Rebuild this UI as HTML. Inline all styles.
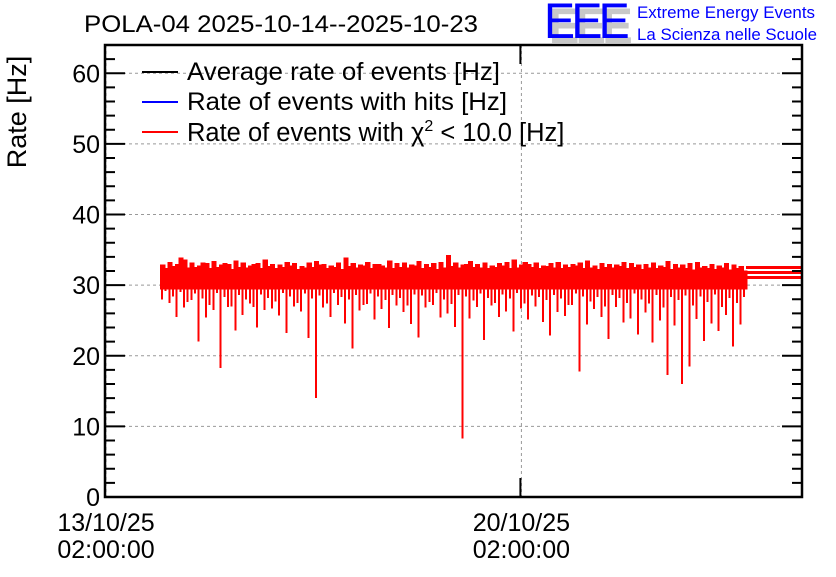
<!DOCTYPE html>
<html><head><meta charset="utf-8"><style>
body{margin:0;background:#fff;width:836px;height:572px;overflow:hidden;font-family:"Liberation Sans",sans-serif}
svg text{font-family:"Liberation Sans",sans-serif}
</style></head><body>
<svg id="chart" width="836" height="572" xmlns="http://www.w3.org/2000/svg">
<g id="grid"></g>
<g id="data" shape-rendering="crispEdges"></g>
<g id="axes"></g>
<text x="84" y="32" font-size="24.5" textLength="394" lengthAdjust="spacingAndGlyphs">POLA-04 2025-10-14--2025-10-23</text>
<g>
<text x="549" y="43" font-size="50" fill="#c8c8c8" font-weight="bold" letter-spacing="-4" textLength="80" lengthAdjust="spacingAndGlyphs">EEE</text>
<text x="544" y="38" font-size="50" fill="#0000ff" letter-spacing="-4" textLength="82" lengthAdjust="spacingAndGlyphs">EEE</text>
<text x="637" y="18" font-size="16.5" fill="#0000ff" textLength="178" lengthAdjust="spacingAndGlyphs">Extreme Energy Events</text>
<text x="637" y="40" font-size="16.5" fill="#0000ff" textLength="180" lengthAdjust="spacingAndGlyphs">La Scienza nelle Scuole</text>
</g>
<text transform="translate(26,112) rotate(-90)" text-anchor="middle" font-size="27">Rate [Hz]</text>
<g font-size="25">
<g><line x1="142" y1="72" x2="178" y2="72" stroke="#000" stroke-width="2"/><text x="187" y="80" textLength="313" lengthAdjust="spacingAndGlyphs">Average rate of events [Hz]</text></g>
<g><line x1="142" y1="102" x2="178" y2="102" stroke="#00f" stroke-width="2"/><text x="187" y="110" textLength="320" lengthAdjust="spacingAndGlyphs">Rate of events with hits [Hz]</text></g>
<g><line x1="142" y1="132" x2="178" y2="132" stroke="#f00" stroke-width="2"/><text x="187" y="141" font-size="25.5">Rate of events with χ<tspan dy="-10" font-size="16">2</tspan><tspan dy="10"> &lt; 10.0 [Hz]</tspan></text></g>
</g>
</svg>
<script>
const yTicks=[0,10,20,30,40,50,60];
const xTickDays=[0,7];
const xTickLabels=[["13/10/25","02:00:00"],["20/10/25","02:00:00"]];
const startDay=0.93, stepDay=0.1234;
const hi=[32.9,33.3,33.0,33.6,33.2,32.8,33.1,33.4,32.9,33.0,33.5,33.2,32.8,33.1,33.6,33.0,32.9,33.3,33.1,32.7,33.2,33.4,33.0,32.8,33.2,33.9,33.1,32.9,33.3,33.0,32.8,33.5,33.1,33.2,32.9,33.4,33.0,33.1,33.3,34.3,33.2,32.9,33.4,33.0,33.2,32.8,33.1,33.3,33.6,32.9,33.0,33.2,32.8,33.1,33.3,32.9,33.0,33.2,33.5,32.8,33.1,33.0,32.9,33.3,33.1,32.9,33.0,33.2,32.8,33.4,33.0,32.9,33.1,33.3,32.7,33.0,32.8,33.1,32.9,32.7];
const hi2=[32.4,32.7,33.9,32.5,32.6,33.2,32.4,32.6,33.1,32.3,32.6,32.5,33.0,32.4,32.7,32.4,32.6,32.8,32.3,32.5,32.6,32.9,32.4,32.6,32.3,32.7,32.5,32.8,32.4,33.0,32.5,32.4,32.6,32.5,32.8,32.4,32.6,32.3,32.5,32.7,32.5,33.0,32.6,32.5,32.4,32.6,32.8,32.4,32.5,33.3,32.6,32.4,32.7,32.5,32.4,32.6,32.8,32.4,32.5,32.3,32.6,32.5,32.7,32.4,32.6,32.3,32.5,32.4,32.6,32.3,32.5,32.4,32.2,32.5,32.4,32.3,32.5,32.2,32.4,32.1];
const lo=[28.0,27.5,25.5,26.8,27.9,22.0,25.4,26.5,18.3,26.9,23.6,25.8,27.4,24.0,26.5,26.7,25.7,23.2,27.0,26.3,22.5,14.0,26.8,25.5,27.2,24.6,21.0,26.4,27.3,25.1,26.6,23.9,27.1,26.2,24.5,22.6,26.8,27.2,25.4,26.0,24.1,8.3,25.3,26.9,22.2,27.1,25.5,26.3,23.4,26.7,25.1,27.0,24.8,22.9,26.2,25.6,27.2,17.8,24.4,26.6,25.5,22.4,26.9,24.7,25.3,23.0,26.1,21.9,25.0,17.3,24.3,16.0,18.5,25.2,22.1,24.6,23.5,25.8,21.3,24.4];
const lo2=[29.2,28.4,29.0,27.6,28.8,28.1,27.2,28.9,28.3,27.0,28.6,28.0,26.9,28.7,28.2,27.7,28.9,28.4,27.5,28.8,28.1,28.5,27.4,28.9,28.3,28.0,28.6,27.2,28.8,28.4,27.9,28.6,28.2,27.1,28.7,28.5,27.6,28.9,28.0,27.3,28.6,28.4,27.8,28.8,28.2,27.5,28.7,28.1,28.9,27.4,28.5,28.3,27.9,28.6,28.1,27.2,28.8,28.4,27.7,28.3,27.0,28.6,28.2,27.5,28.8,28.0,27.4,28.6,26.8,28.3,27.9,28.5,27.1,28.4,27.6,28.7,26.9,28.2,27.5,28.3];
const tailValues=[32.5,31.8,31.1];
const X0=105,X1=802,Y0=497,YT=45,yMax=64.0,dayMax=11.745;
const sx=d=>X0+(X1-X0)*d/dayMax, sy=v=>Y0-(Y0-YT)*v/yMax;
const NS="http://www.w3.org/2000/svg";
function mk(t,a,p){const e=document.createElementNS(NS,t);for(const k in a)e.setAttribute(k,a[k]);p.appendChild(e);return e;}
const grid=document.getElementById('grid'),data=document.getElementById('data'),axes=document.getElementById('axes');
yTicks.forEach(v=>{if(v>0){const l=mk('line',{x1:X0,x2:X1,y1:sy(v),y2:sy(v),stroke:'#999','stroke-dasharray':'3,3'},grid);

}});
xTickDays.forEach(d=>{const l=mk('line',{x1:sx(d)+1,x2:sx(d)+1,y1:YT,y2:Y0,stroke:'#999','stroke-dasharray':'3,3'},grid);

});
const n=Math.min(hi.length,lo.length,hi2.length,lo2.length);
for(let i=0;i<n;i++){
 const xa=sx(startDay+i*stepDay),xb=sx(startDay+(i+1)*stepDay),w=(xb-xa)/2;
 const r=mk('rect',{x:xa,y:sy(hi[i]),width:w+1.5,height:sy(Math.max(lo[i],29.4))-sy(hi[i]),fill:'#f00'},data);
 
 
 const r2=mk('rect',{x:xa+w,y:sy(hi2[i]),width:w+1.5,height:sy(Math.max(lo2[i],29.4))-sy(hi2[i]),fill:'#f00'},data);
 
 
 const s=mk('rect',{x:xa+w*0.5-1,y:sy(hi[i]),width:2,height:sy(lo[i])-sy(hi[i]),fill:'#f00'},data);
 
 
 const s2=mk('rect',{x:xa+w*1.5-1,y:sy(hi2[i]),width:2,height:sy(lo2[i])-sy(hi2[i]),fill:'#f00'},data);
 
 
}
const tailStart=sx(startDay+n*stepDay);
tailValues.forEach(v=>{const l=mk('line',{x1:tailStart,x2:X1,y1:sy(v),y2:sy(v),stroke:'#f00','stroke-width':3},data);

});
const f=mk('rect',{x:X0,y:YT,width:X1-X0,height:Y0-YT,fill:'none',stroke:'#000','stroke-width':2.5},axes);


for(let v=0;v<=yMax;v+=2){const major=v%10===0,len=major?20:10;
 mk('line',{x1:X0,x2:X0+len,y1:sy(v),y2:sy(v),stroke:'#000','stroke-width':2},axes);
 mk('line',{x1:X1-len,x2:X1,y1:sy(v),y2:sy(v),stroke:'#000','stroke-width':2},axes);}
yTicks.forEach(v=>{const t=mk('text',{x:X0-5,y:sy(v)+9,'text-anchor':'end','font-size':25},axes);t.textContent=v;

});
xTickDays.forEach((d,i)=>{const x=sx(d);
 mk('line',{x1:x,x2:x,y1:Y0,y2:Y0-19,stroke:'#000','stroke-width':2},axes);
 mk('line',{x1:x,x2:x,y1:YT,y2:YT+19,stroke:'#000','stroke-width':2},axes);
 const t=mk('text',{x:x+1,y:531,'text-anchor':'middle','font-size':25},axes);t.textContent=xTickLabels[i][0];
 
 
 const t2=mk('text',{x:x+1,y:558,'text-anchor':'middle','font-size':25},axes);t2.textContent=xTickLabels[i][1];
 
 });
</script>
</body></html>
